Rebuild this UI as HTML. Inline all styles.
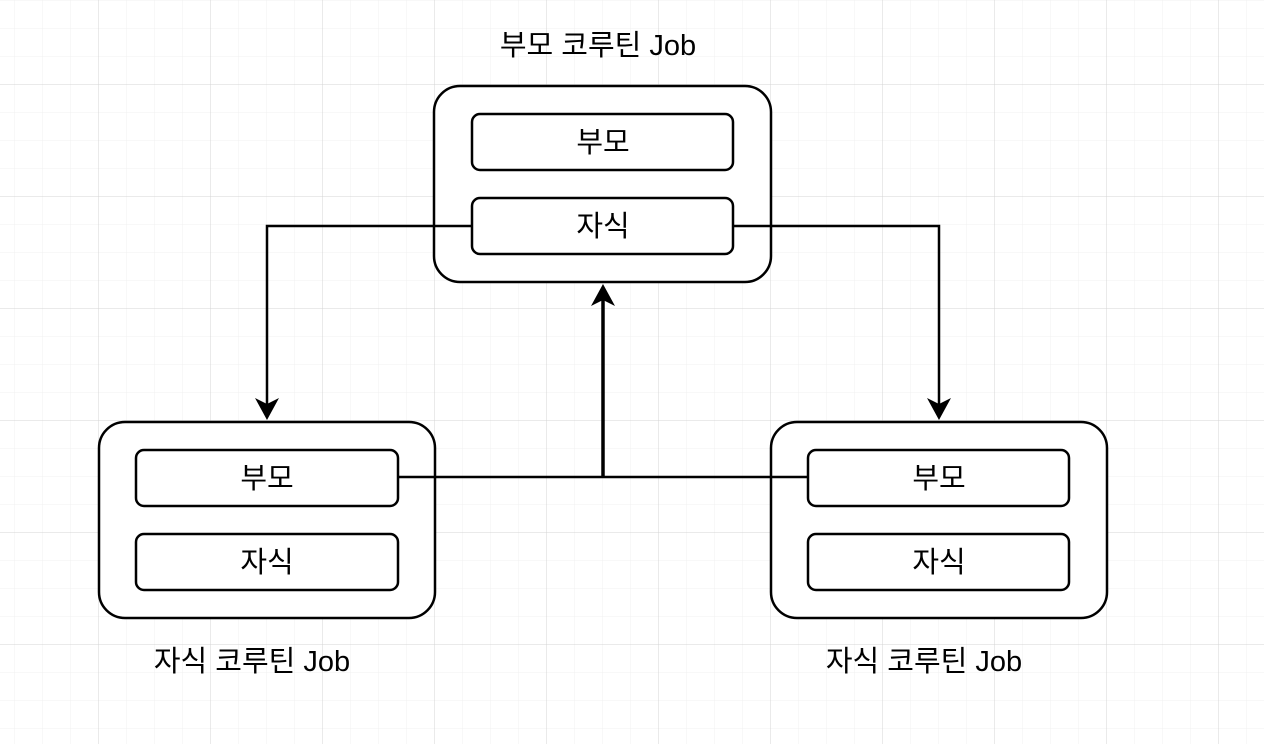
<!DOCTYPE html>
<html><head><meta charset="utf-8"><style>
html,body{margin:0;padding:0;background:#fff}
svg text{font-family:"Liberation Sans","Noto Sans CJK KR",sans-serif;fill:#000}
</style></head><body>
<svg width="1264" height="744" xmlns="http://www.w3.org/2000/svg">
<defs>
<pattern id="minor" width="28" height="28" patternUnits="userSpaceOnUse" x="14" y="0">
<path d="M0 0H28M0 0V28" stroke="#f0f0f0" stroke-width="1" fill="none"/>
</pattern>
<pattern id="major" width="112" height="112" patternUnits="userSpaceOnUse" x="98" y="84">
<path d="M0 0H112M0 0V112" stroke="#d4d4d4" stroke-width="1" fill="none"/>
</pattern>
</defs>
<rect width="1264" height="744" fill="url(#minor)"/>
<rect width="1264" height="744" fill="url(#major)"/>
<g fill="#fff" stroke="#000" stroke-width="2.5">
<rect x="434" y="86" width="337" height="196" rx="26"/>
<rect x="99" y="422" width="336" height="196" rx="26"/>
<rect x="771" y="422" width="336" height="196" rx="26"/>
<rect x="472" y="114" width="261" height="56" rx="8"/>
<rect x="472" y="198" width="261" height="56" rx="8"/>
<rect x="136" y="450" width="262" height="56" rx="8"/>
<rect x="136" y="534" width="262" height="56" rx="8"/>
<rect x="808" y="450" width="261" height="56" rx="8"/>
<rect x="808" y="534" width="261" height="56" rx="8"/>
</g>
<g fill="none" stroke="#000" stroke-width="2.5">
<path d="M472 226H267V405"/>
<path d="M733 226H939V405"/>
<path d="M398 477H808"/>
<path d="M603 477V300" stroke-width="3.5"/>
</g>
<g fill="#000">
<path d="M255 398L267 420L279 398L267 404Z"/>
<path d="M927 398L939 420L951 398L939 404Z"/>
<path d="M591 306L603 284L615 306L603 300Z"/>
</g>
<g font-size="29" text-anchor="middle">
<text x="598" y="55">부모 코루틴 Job</text>
<text x="603" y="152">부모</text>
<text x="603" y="236">자식</text>
<text x="267" y="488">부모</text>
<text x="267" y="572">자식</text>
<text x="939" y="488">부모</text>
<text x="939" y="572">자식</text>
<text x="252" y="671">자식 코루틴 Job</text>
<text x="924" y="671">자식 코루틴 Job</text>
</g>
</svg>
</body></html>
